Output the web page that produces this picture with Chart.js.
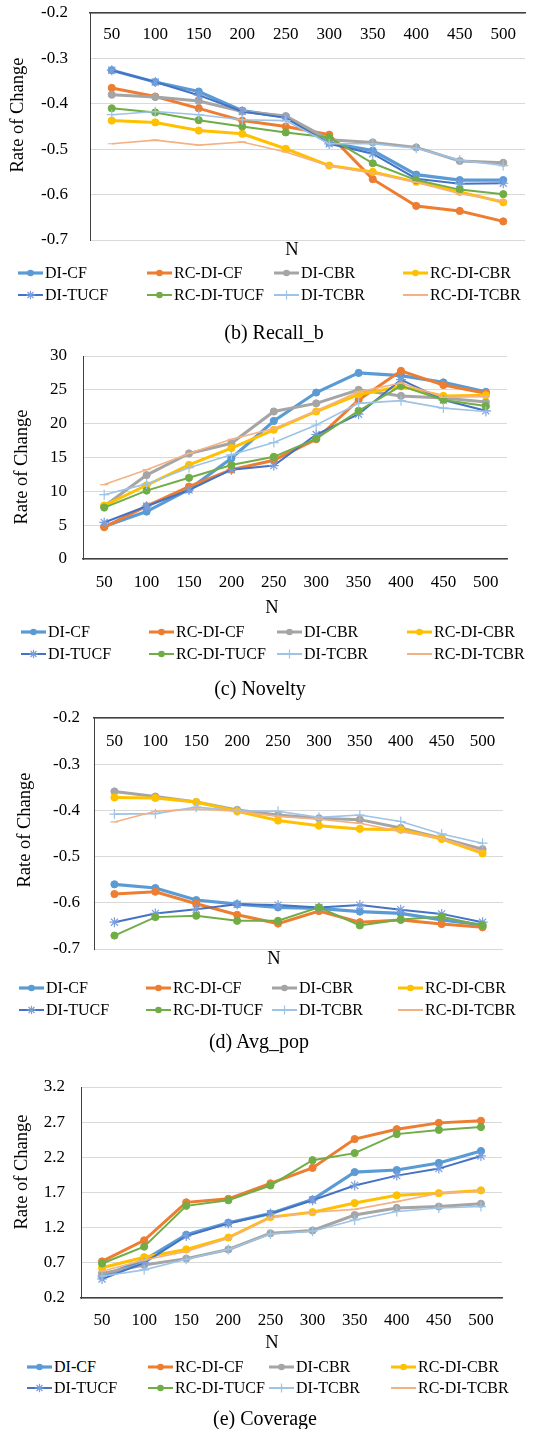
<!DOCTYPE html>
<html>
<head>
<meta charset="utf-8">
<script src="https://cdn.jsdelivr.net/npm/chart.js@4.4.0/dist/chart.umd.min.js"></script>
<style>
html,body{margin:0;padding:0;background:#fff;}
#page{position:relative;width:548px;height:1429px;overflow:hidden;font-family:"Liberation Serif","Times New Roman",serif;color:#000;background:#fff;}
canvas{position:absolute;left:0;}
.t{position:absolute;white-space:nowrap;line-height:1;transform:translate(-50%,-50%);}
.ytitle{position:absolute;white-space:nowrap;line-height:1;font-size:18.5px;transform:translate(-50%,-50%) rotate(-90deg);}
.leg{position:absolute;display:flex;align-items:center;font-size:16px;line-height:1;white-space:nowrap;transform:translateY(-50%);}
</style>
</head>
<body>
<div id="page"></div>
<script>
// ---------- DATA ----------
const categories = ['50', '100', '150', '200', '250', '300', '350', '400', '450', '500'];
const seriesNames = ['DI-CF', 'RC-DI-CF', 'DI-CBR', 'RC-DI-CBR', 'DI-TUCF', 'RC-DI-TUCF', 'DI-TCBR', 'RC-DI-TCBR'];

// (b) Recall_b
const recallDICF     = [-0.326, -0.352, -0.373, -0.415, -0.429, -0.486, -0.503, -0.556, -0.568, -0.568];
const recallRCDICF   = [-0.365, -0.384, -0.410, -0.437, -0.450, -0.468, -0.566, -0.625, -0.636, -0.659];
const recallDICBR    = [-0.380, -0.385, -0.394, -0.417, -0.427, -0.479, -0.485, -0.496, -0.526, -0.530];
const recallRCDICBR  = [-0.437, -0.441, -0.459, -0.466, -0.499, -0.536, -0.550, -0.572, -0.594, -0.617];
const recallDITUCF   = [-0.326, -0.352, -0.381, -0.417, -0.431, -0.488, -0.510, -0.565, -0.576, -0.575];
const recallRCDITUCF = [-0.410, -0.419, -0.436, -0.450, -0.463, -0.474, -0.531, -0.568, -0.589, -0.599];
const recallDITCBR   = [-0.424, -0.417, -0.424, -0.435, -0.437, -0.488, -0.488, -0.498, -0.524, -0.536];
const recallRCDITCBR = [-0.488, -0.480, -0.491, -0.484, -0.506, -0.537, -0.553, -0.573, -0.598, -0.614];
const recallTicks = [-0.7, -0.6, -0.5, -0.4, -0.3, -0.2];

// (c) Novelty
const noveltyDICF     = [4.8, 7.0, 10.3, 14.9, 20.4, 24.6, 27.5, 27.1, 26.1, 24.7];
const noveltyRCDICF   = [4.7, 7.8, 10.7, 13.2, 14.6, 17.7, 23.5, 27.8, 25.7, 24.5];
const noveltyDICBR    = [7.8, 12.4, 15.6, 17.1, 21.8, 23.0, 25.0, 24.1, 23.8, 23.2];
const noveltyRCDICBR  = [7.9, 10.9, 13.9, 16.4, 19.1, 21.8, 24.3, 25.5, 24.1, 24.2];
const noveltyDITUCF   = [5.4, 7.8, 10.2, 13.2, 13.8, 18.4, 21.4, 26.5, 23.5, 21.9];
const noveltyRCDITUCF = [7.6, 10.1, 12.0, 13.9, 15.1, 17.8, 21.9, 25.6, 23.5, 22.6];
const noveltyDITCBR   = [9.5, 11.1, 13.5, 15.4, 17.2, 19.8, 23.0, 23.4, 22.3, 21.8];
const noveltyRCDITCBR = [11.0, 13.2, 15.6, 17.7, 19.3, 21.9, 24.7, 26.0, 23.9, 24.0];
const noveltyTicks = [0, 5, 10, 15, 20, 25, 30];

// (d) Avg_pop
const avgpopDICF     = [-0.560, -0.568, -0.594, -0.603, -0.610, -0.612, -0.619, -0.623, -0.637, -0.648];
const avgpopRCDICF   = [-0.581, -0.576, -0.602, -0.626, -0.645, -0.618, -0.642, -0.637, -0.646, -0.653];
const avgpopDICBR    = [-0.359, -0.370, -0.382, -0.399, -0.410, -0.417, -0.420, -0.438, -0.460, -0.484];
const avgpopRCDICBR  = [-0.372, -0.373, -0.382, -0.402, -0.422, -0.433, -0.440, -0.442, -0.462, -0.493];
const avgpopDITUCF   = [-0.642, -0.623, -0.614, -0.603, -0.605, -0.610, -0.605, -0.615, -0.624, -0.642];
const avgpopRCDITUCF = [-0.671, -0.631, -0.628, -0.639, -0.639, -0.610, -0.649, -0.636, -0.630, -0.649];
const avgpopDITCBR   = [-0.408, -0.407, -0.393, -0.401, -0.402, -0.415, -0.410, -0.424, -0.451, -0.471];
const avgpopRCDITCBR = [-0.425, -0.402, -0.397, -0.402, -0.413, -0.419, -0.428, -0.446, -0.461, -0.489];
const avgpopTicks = [-0.7, -0.6, -0.5, -0.4, -0.3, -0.2];

// (e) Coverage
const coverageDICF     = [0.51, 0.74, 1.10, 1.27, 1.40, 1.60, 1.99, 2.02, 2.12, 2.29];
const coverageRCDICF   = [0.72, 1.02, 1.56, 1.61, 1.83, 2.05, 2.46, 2.60, 2.69, 2.72];
const coverageDICBR    = [0.55, 0.67, 0.76, 0.89, 1.12, 1.16, 1.38, 1.48, 1.50, 1.54];
const coverageRCDICBR  = [0.63, 0.78, 0.89, 1.06, 1.35, 1.42, 1.55, 1.66, 1.69, 1.73];
const coverageDITUCF   = [0.47, 0.70, 1.08, 1.26, 1.40, 1.59, 1.80, 1.94, 2.04, 2.22];
const coverageRCDITUCF = [0.69, 0.93, 1.51, 1.59, 1.80, 2.16, 2.26, 2.53, 2.59, 2.63];
const coverageDITCBR   = [0.51, 0.60, 0.75, 0.89, 1.11, 1.15, 1.31, 1.43, 1.48, 1.50];
const coverageRCDITCBR = [0.58, 0.74, 0.86, 1.05, 1.34, 1.42, 1.46, 1.57, 1.69, 1.72];
const coverageTicks = [0.2, 0.7, 1.2, 1.7, 2.2, 2.7, 3.2];

const captions = ['(b) Recall_b', '(c) Novelty', '(d) Avg_pop', '(e) Coverage'];
const yTitle = 'Rate of Change';
const xTitle = 'N';

// ---------- STYLES ----------
const FONT = '"Liberation Serif", "Times New Roman", serif';
const AXIS = '#404040';
const styles = [
  {color: '#5B9BD5', width: 3.2, point: 'circle', radius: 3.6, pointColor: '#5B9BD5', pbw: 1},
  {color: '#ED7D31', width: 3,   point: 'circle', radius: 3.6, pointColor: '#ED7D31', pbw: 1},
  {color: '#A5A5A5', width: 3,   point: 'circle', radius: 3.6, pointColor: '#A5A5A5', pbw: 1},
  {color: '#FFC000', width: 3,   point: 'circle', radius: 3.6, pointColor: '#FFC000', pbw: 1},
  {color: '#4472C4', width: 2,   point: 'star',   radius: 5,   pointColor: '#7A9EDD', pbw: 1.2},
  {color: '#70AD47', width: 2,   point: 'circle', radius: 3.6, pointColor: '#70AD47', pbw: 1},
  {color: '#9DC3E6', width: 1.6, point: 'cross',  radius: 5,   pointColor: '#9DC3E6', pbw: 1.2},
  {color: '#F4B183', width: 1.6, point: 'line',   radius: 4,   pointColor: '#F4B183', pbw: 1.2}
];

const panels = [
  {series: [recallDICF, recallRCDICF, recallDICBR, recallRCDICBR, recallDITUCF, recallRCDITUCF, recallDITCBR, recallRCDITCBR],
   ticks: recallTicks, dec: 1, xTop: true,
   top: 0, h: 252, caTop: 13, caBottom: 240, left: 90, right: 525, yLabRight: 68, xLabY: 35,
   yT: [17, 115], nT: [292, 249], cap: [274, 332], legX: [45, 174, 301, 430], legY: [273, 295]},
  {series: [noveltyDICF, noveltyRCDICF, noveltyDICBR, noveltyRCDICBR, noveltyDITUCF, noveltyRCDITUCF, noveltyDITCBR, noveltyRCDITCBR],
   ticks: noveltyTicks, dec: 0, xTop: false,
   top: 340, h: 259, caTop: 356, caBottom: 559, left: 83, right: 507, yLabRight: 67, xLabY: 583,
   yT: [21, 467], nT: [272, 607], cap: [260, 688], legX: [48, 176, 304, 434], legY: [632, 654]},
  {series: [avgpopDICF, avgpopRCDICF, avgpopDICBR, avgpopRCDICBR, avgpopDITUCF, avgpopRCDITUCF, avgpopDITCBR, avgpopRCDITCBR],
   ticks: avgpopTicks, dec: 1, xTop: true,
   top: 700, h: 261, caTop: 718, caBottom: 949, left: 94, right: 503, yLabRight: 80, xLabY: 742,
   yT: [24, 830], nT: [274, 958], cap: [259, 1041], legX: [46, 173, 299, 425], legY: [988, 1010]},
  {series: [coverageDICF, coverageRCDICF, coverageDICBR, coverageRCDICBR, coverageDITUCF, coverageRCDITUCF, coverageDITCBR, coverageRCDITCBR],
   ticks: coverageTicks, dec: 1, xTop: false,
   top: 1070, h: 268, caTop: 1087, caBottom: 1298, left: 81, right: 502, yLabRight: 65, xLabY: 1321,
   yT: [21, 1172], nT: [272, 1342], cap: [265, 1418], legX: [54, 175, 296, 418], legY: [1367, 1388]}
];

const page = document.getElementById('page');

function addText(cls, txt, x, y, size) {
  const d = document.createElement('div');
  d.className = cls;
  d.textContent = txt;
  d.style.left = x + 'px';
  d.style.top = y + 'px';
  if (size) d.style.fontSize = size + 'px';
  page.appendChild(d);
}

function legendSymbol(st, len) {
  const c = st.color, pc = st.pointColor, mid = len / 2;
  let s = '<svg width="' + len + '" height="12" viewBox="0 0 ' + len + ' 12" style="flex:none;margin-right:2px">' +
          '<line x1="0" y1="6" x2="' + len + '" y2="6" stroke="' + c + '" stroke-width="' + Math.max(st.width, 2) + '"/>';
  if (st.point === 'circle') {
    s += '<circle cx="' + mid + '" cy="6" r="3.3" fill="' + pc + '"/>';
  } else if (st.point === 'star') {
    [0, 45, 90, 135].forEach(a => {
      const r = 4.2, rad = a * Math.PI / 180;
      const dx = r * Math.cos(rad), dy = r * Math.sin(rad);
      s += '<line x1="' + (mid - dx) + '" y1="' + (6 - dy) + '" x2="' + (mid + dx) + '" y2="' + (6 + dy) + '" stroke="' + pc + '" stroke-width="1.2"/>';
    });
  } else if (st.point === 'cross') {
    s += '<line x1="' + mid + '" y1="1.5" x2="' + mid + '" y2="10.5" stroke="' + pc + '" stroke-width="1.2"/>';
  }
  return s + '</svg>';
}

panels.forEach((p, pi) => {
  const cv = document.createElement('canvas');
  cv.width = 548; cv.height = p.h;
  cv.style.width = '548px'; cv.style.height = p.h + 'px';
  cv.style.top = p.top + 'px';
  page.appendChild(cv);
  const caTop = p.caTop - p.top, caBottom = p.caBottom - p.top;
  const yMin = p.ticks[0], yMax = p.ticks[p.ticks.length - 1];
  const tickLine = 17 * 1.2;
  const xPad = p.xTop ? (p.xLabY - p.caTop - tickLine / 2) : (p.xLabY - p.caBottom - tickLine / 2);

  new Chart(cv, {
    type: 'line',
    data: {
      labels: categories,
      datasets: p.series.map((vals, i) => ({
        label: seriesNames[i],
        data: vals,
        borderColor: styles[i].color,
        backgroundColor: styles[i].color,
        borderWidth: styles[i].width,
        pointStyle: styles[i].point,
        pointRadius: styles[i].radius,
        pointBorderColor: styles[i].pointColor,
        pointBackgroundColor: styles[i].pointColor,
        pointBorderWidth: styles[i].pbw,
        tension: 0,
        fill: false,
        order: 8 - i
      }))
    },
    options: {
      responsive: false,
      animation: false,
      devicePixelRatio: 1,
      events: [],
      layout: {padding: {left: 0, right: 548 - p.right, top: caTop, bottom: p.xTop ? p.h - caBottom : 0}},
      plugins: {legend: {display: false}, tooltip: {enabled: false}, title: {display: false}},
      scales: {
        x: {
          type: 'category',
          offset: true,
          position: p.xTop ? {y: yMax} : 'bottom',
          grid: {display: false, drawTicks: false},
          border: {display: true, color: AXIS, width: 1.5},
          ticks: {font: {family: FONT, size: 17}, color: '#000', padding: xPad, maxRotation: 0, autoSkip: false},
          afterFit: s => {
            if (!p.xTop) s.height = p.h - caBottom;
            s.paddingLeft = 0; s.paddingRight = 0; s.paddingTop = 0; s.paddingBottom = 0;
          }
        },
        y: {
          type: 'linear',
          position: 'left',
          min: yMin,
          max: yMax,
          afterBuildTicks: s => { s.ticks = p.ticks.map(v => ({value: v})); },
          grid: {color: '#D9D9D9', lineWidth: 1, drawTicks: false},
          border: {display: true, color: AXIS, width: 1},
          ticks: {font: {family: FONT, size: 17}, color: '#000', padding: p.left - p.yLabRight,
                  callback: v => Number(v).toFixed(p.dec)},
          afterFit: s => {
            s.width = p.left;
            s.paddingTop = 0; s.paddingBottom = 0; s.paddingLeft = 0; s.paddingRight = 0;
          }
        }
      }
    }
  });

  addText('ytitle', yTitle, p.yT[0], p.yT[1]);
  addText('t', xTitle, p.nT[0], p.nT[1], 18.5);
  addText('t', captions[pi], p.cap[0], p.cap[1], 20);

  seriesNames.forEach((name, i) => {
    const row = i < 4 ? 0 : 1, col = i % 4;
    const d = document.createElement('div');
    d.className = 'leg';
    d.style.left = (p.legX[col] - 27) + 'px';
    d.style.top = p.legY[row] + 'px';
    d.innerHTML = legendSymbol(styles[i], 25) + '<span>' + name + '</span>';
    page.appendChild(d);
  });
});
</script>
</body>
</html>
